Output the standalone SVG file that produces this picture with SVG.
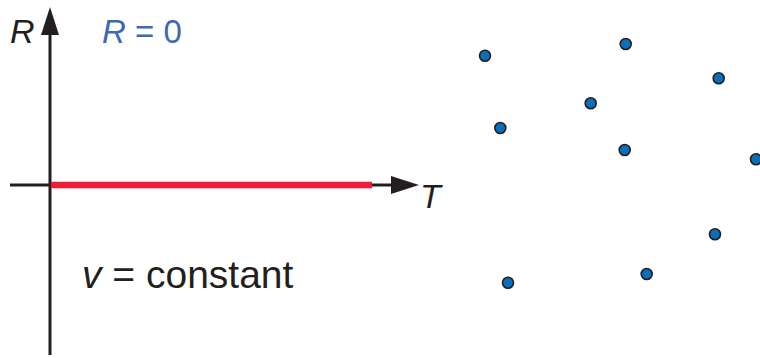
<svg xmlns="http://www.w3.org/2000/svg" width="760" height="358" viewBox="0 0 760 358">
<style>
.lbl{font-family:"Liberation Sans",Arial,sans-serif;font-style:italic;font-size:34px;fill:#231f20}
.dot{fill:#0a6fba;stroke:#231f20;stroke-width:1.6}
.ax{stroke:#231f20;stroke-width:3;fill:none}
</style>
<rect width="760" height="358" fill="#fff"/>
<g id="axes">
<line class="ax" x1="50" y1="355" x2="50" y2="32"/>
<polygon points="50,7 41,35 59,35" fill="#231f20"/>
<line class="ax" x1="10" y1="185" x2="395" y2="185"/>
<polygon points="419,185 391,176 391,194" fill="#231f20"/>
<line x1="51" y1="185" x2="372" y2="185" stroke="#ed1c3a" stroke-width="6.5"/>
</g>
<g id="labels">
<text class="lbl" x="10" y="43">R</text>
<text class="lbl" x="420" y="208">T</text>
<text x="102" y="43" font-family="Liberation Sans,Arial,sans-serif" font-size="33" fill="#3d68b4"><tspan font-style="italic">R</tspan> = 0</text>
<text x="82" y="288" font-family="Liberation Sans,Arial,sans-serif" font-size="39" fill="#231f20"><tspan font-style="italic">v</tspan> = constant</text>
</g>
<g id="particles">
<circle class="dot" cx="485" cy="55.7" r="5.5"/>
<circle class="dot" cx="625.7" cy="44" r="5.5"/>
<circle class="dot" cx="718.7" cy="78.3" r="5.5"/>
<circle class="dot" cx="590.7" cy="103.3" r="5.5"/>
<circle class="dot" cx="500.3" cy="128" r="5.5"/>
<circle class="dot" cx="624.7" cy="150" r="5.5"/>
<circle class="dot" cx="756" cy="159.3" r="5.5"/>
<circle class="dot" cx="715" cy="234.3" r="5.5"/>
<circle class="dot" cx="646.7" cy="274" r="5.5"/>
<circle class="dot" cx="508" cy="282.7" r="5.5"/>
</g>
</svg>
